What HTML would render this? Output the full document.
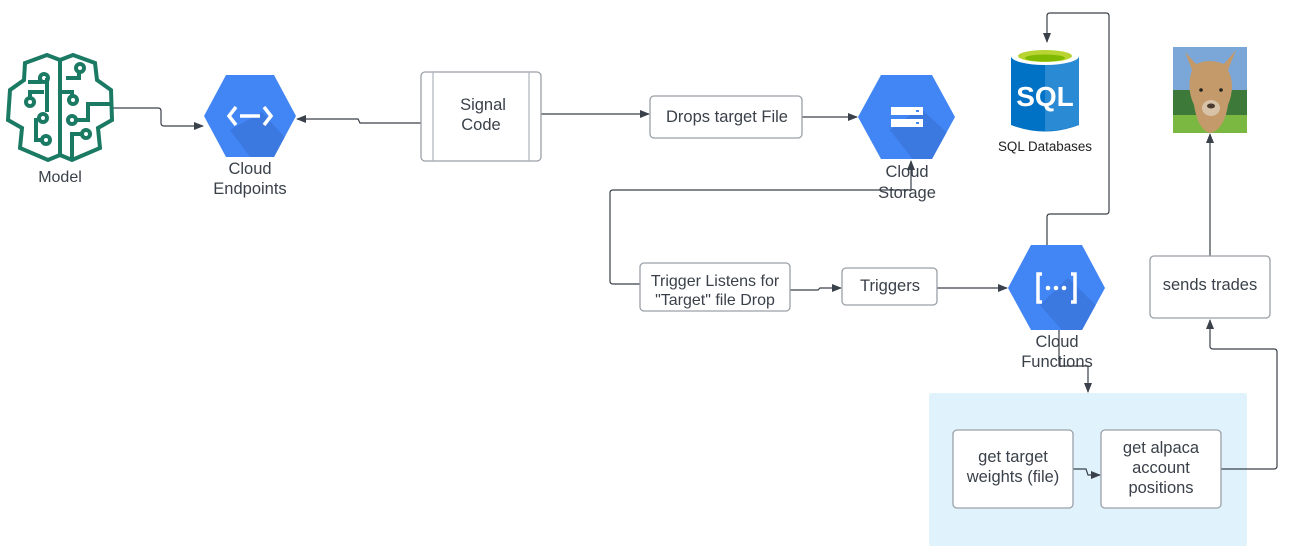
<!DOCTYPE html>
<html><head><meta charset="utf-8"><style>
html,body{margin:0;padding:0;background:#fff;}
svg{display:block;}
text{font-family:"Liberation Sans",sans-serif;fill:#3a414a;}
</style></head><body>
<svg width="1293" height="556" viewBox="0 0 1293 556" xmlns="http://www.w3.org/2000/svg">
<defs>
<marker id="ar" markerWidth="10" markerHeight="10" refX="9" refY="5" orient="auto" markerUnits="userSpaceOnUse">
<path d="M0,1 L10,5 L0,9 Z" fill="#3a414a"/></marker>
<clipPath id="hc1"><polygon points="204,116 226,75 274,75 296,116 274,157 226,157"/></clipPath>
<clipPath id="hc2"><polygon points="858,117 881,75 932,75 955,117 932,159 881,159"/></clipPath>
<clipPath id="hc3"><polygon points="1008,288 1031,245 1082,245 1105,288 1082,330 1031,330"/></clipPath>
</defs>

<rect x="929" y="393" width="318" height="153" rx="2" fill="#e0f3fc"/>

<g fill="none" stroke="#3a414a" stroke-width="1.2">
<path d="M113,108 H158 Q161,108 161,111 V123 Q161,126 164,126 H203" marker-end="url(#ar)"/>
<path d="M421,123 H360 L358,119 H297" marker-end="url(#ar)"/>
<path d="M541,114 H649" marker-end="url(#ar)"/>
<path d="M802,117 H857" marker-end="url(#ar)"/>
<path d="M640,284 H613 Q610,284 610,281 V193 Q610,190 613,190 H911 V161" marker-end="url(#ar)"/>
<path d="M790,290 H818 L820,288 H841" marker-end="url(#ar)"/>
<path d="M937,288 H1007" marker-end="url(#ar)"/>
<path d="M1047,245 V217 Q1047,214 1050,214 H1106 Q1109,214 1109,211 V16 Q1109,13 1106,13 H1050 Q1047,13 1047,16 V42" marker-end="url(#ar)"/>
<path d="M1059,330 V366 H1088 V392" marker-end="url(#ar)"/>
<path d="M1073,469 H1086 L1088,475 H1100" marker-end="url(#ar)"/>
<path d="M1221,469 H1274 Q1277,469 1277,466 V352 Q1277,349 1274,349 H1213 Q1210,349 1210,346 V320" marker-end="url(#ar)"/>
<path d="M1210,256 V134" marker-end="url(#ar)"/>
</g>

<g fill="none" stroke="#1b7a63" stroke-width="4" stroke-linejoin="miter">
<path d="M60,60 L47,55 L25,63 L24,80 L10,90 L8,120 L22,128 L20,148 L48,160 L60,155 Z"/>
<path d="M60,60 L73,55 L95,63 L97,80 L111,90 L112,120 L98,128 L100,148 L72,160 L60,155"/>
<path d="M28,82 H40 V78"/><circle cx="44" cy="78" r="4"/>
<path d="M30,100 V92 H44"/><circle cx="30" cy="102" r="4"/>
<path d="M47,78 V112"/><circle cx="43" cy="118" r="4"/>
<path d="M36,118 V140 H42"/><circle cx="46" cy="140" r="4"/>
<path d="M60,92 H72 V96"/><circle cx="73" cy="100" r="4"/>
<path d="M79,70 V78 H66"/><circle cx="80" cy="68" r="4"/>
<path d="M110,104 H88 V120 H76"/><circle cx="72" cy="120" r="4"/>
<path d="M72,158 V134 H82"/><circle cx="86" cy="134" r="4"/>
</g>
<text x="60" y="182" font-size="16" text-anchor="middle">Model</text>

<polygon points="204,116 226,75 274,75 296,116 274,157 226,157" fill="#4285f4"/>
<polygon points="262,112 296,150 296,170 260,170 230,130" fill="#3b78e0" clip-path="url(#hc1)"/>
<g stroke="#fff" stroke-width="3.5" fill="none"><path d="M236,107 L229,116 L236,125"/><path d="M264,107 L271,116 L264,125"/><path d="M240,116 H260"/></g>
<text x="250" y="174" font-size="16.5" text-anchor="middle">Cloud</text>
<text x="250" y="194" font-size="16.5" text-anchor="middle">Endpoints</text>

<rect x="421" y="72" width="120" height="89" rx="4" fill="#fff" stroke="#9aa0a8" stroke-width="1.3"/>
<line x1="433" y1="72" x2="433" y2="161" stroke="#b4b8be" stroke-width="1.3"/>
<line x1="529" y1="72" x2="529" y2="161" stroke="#b4b8be" stroke-width="1.3"/>
<text x="483" y="110" font-size="16.5" text-anchor="middle">Signal</text>
<text x="481" y="130" font-size="16.5" text-anchor="middle">Code</text>

<rect x="650" y="96" width="152" height="42" rx="4" fill="#fff" stroke="#9aa0a8" stroke-width="1.3"/>
<text x="727" y="122" font-size="16.5" text-anchor="middle">Drops target File</text>

<polygon points="858,117 881,75 932,75 955,117 932,159 881,159" fill="#4285f4"/>
<polygon points="920,108 955,140 955,175 925,175 890,130" fill="#3b78e0" clip-path="url(#hc2)"/>
<rect x="891" y="107" width="32" height="8" fill="#fff"/><rect x="891" y="119" width="32" height="8" fill="#fff"/>
<rect x="916" y="110" width="3" height="2" fill="#4285f4"/><rect x="916" y="122" width="3" height="2" fill="#4285f4"/>
<text x="907" y="177" font-size="16.5" text-anchor="middle">Cloud</text>
<text x="907" y="198" font-size="16.5" text-anchor="middle">Storage</text>

<rect x="640" y="263" width="150" height="48" rx="4" fill="#fff" stroke="#9aa0a8" stroke-width="1.3"/>
<text x="715" y="286" font-size="16" text-anchor="middle">Trigger Listens for</text>
<text x="715" y="305" font-size="16" text-anchor="middle">"Target" file Drop</text>

<rect x="842" y="268" width="95" height="37" rx="4" fill="#fff" stroke="#9aa0a8" stroke-width="1.3"/>
<text x="890" y="291" font-size="16.5" text-anchor="middle">Triggers</text>

<polygon points="1008,288 1031,245 1082,245 1105,288 1082,330 1031,330" fill="#4285f4"/>
<polygon points="1068,278 1105,314 1105,345 1075,345 1040,305" fill="#3b78e0" clip-path="url(#hc3)"/>
<g stroke="#fff" stroke-width="3.5" fill="none"><path d="M1042,274 H1038 V302 H1042"/><path d="M1071,274 H1075 V302 H1071"/></g>
<circle cx="1048" cy="288" r="2.3" fill="#fff"/><circle cx="1056" cy="288" r="2.3" fill="#fff"/><circle cx="1064" cy="288" r="2.3" fill="#fff"/>
<text x="1057" y="347" font-size="16.5" text-anchor="middle">Cloud</text>
<text x="1057" y="367" font-size="16.5" text-anchor="middle">Functions</text>

<path d="M1011,56 V125 Q1045,138 1079,125 V56 Z" fill="#0072c6"/>
<path d="M1045,64 V131 Q1065,130 1079,125 V56 Z" fill="#2a8ad4"/>
<ellipse cx="1045" cy="56" rx="34" ry="9" fill="#fff"/>
<ellipse cx="1045" cy="56" rx="27" ry="6" fill="#b8d432"/>
<ellipse cx="1045" cy="58" rx="20" ry="3.5" fill="#7fba00"/>
<text x="1045" y="106" font-size="28" font-weight="bold" text-anchor="middle" style="fill:#fff">SQL</text>
<text x="1045" y="151" font-size="13.4" text-anchor="middle" style="fill:#222">SQL Databases</text>

<rect x="1173" y="47" width="74" height="86" fill="#7aa7d8"/>
<rect x="1173" y="90" width="74" height="43" fill="#3d7a3a"/>
<rect x="1173" y="115" width="74" height="18" fill="#7bb842"/>
<path d="M1185,52 L1192,70 Q1186,88 1194,105 Q1198,130 1210,133 Q1224,130 1228,105 Q1236,85 1228,70 L1236,50 L1224,64 Q1210,58 1196,64 Z" fill="#c59a6a"/>
<ellipse cx="1211" cy="108" rx="9" ry="8" fill="#d8c2a8"/>
<circle cx="1201" cy="90" r="1.8" fill="#222"/><circle cx="1221" cy="90" r="1.8" fill="#222"/>
<ellipse cx="1211" cy="106" rx="4" ry="2.5" fill="#4a3a30"/>

<rect x="1150" y="256" width="120" height="62" rx="4" fill="#fff" stroke="#9aa0a8" stroke-width="1.3"/>
<text x="1210" y="290" font-size="16.5" text-anchor="middle">sends trades</text>

<rect x="953" y="430" width="120" height="78" rx="4" fill="#fff" stroke="#9aa0a8" stroke-width="1.3"/>
<text x="1013" y="462" font-size="16.5" text-anchor="middle">get target</text>
<text x="1013" y="482" font-size="16.5" text-anchor="middle">weights (file)</text>
<rect x="1101" y="430" width="120" height="78" rx="4" fill="#fff" stroke="#9aa0a8" stroke-width="1.3"/>
<text x="1161" y="453" font-size="16.5" text-anchor="middle">get alpaca</text>
<text x="1161" y="473" font-size="16.5" text-anchor="middle">account</text>
<text x="1161" y="493" font-size="16.5" text-anchor="middle">positions</text>
</svg>
</body></html>
